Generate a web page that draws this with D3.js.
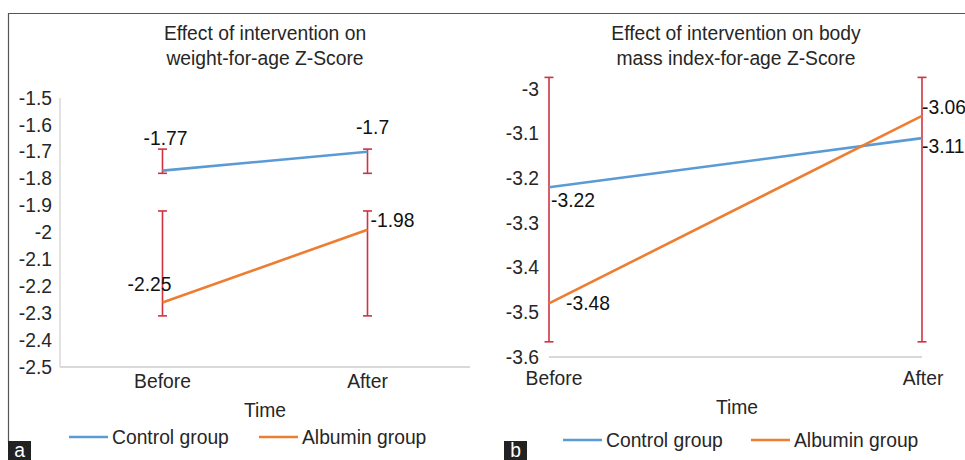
<!DOCTYPE html>
<html><head><meta charset="utf-8">
<script src="https://cdn.jsdelivr.net/npm/d3@7"></script>
<style>
html,body{margin:0;padding:0;background:#fff;}
svg{display:block;font-family:"Liberation Sans",Arial,sans-serif;}
</style></head>
<body>
<svg id="chart" width="965" height="460"></svg>
<script>
// ---- data ----
const categories = ["Before", "After"];
const seriesNames = ["Control group", "Albumin group"];

// Panel a: weight-for-age Z-score
const aTitle = ["Effect of intervention on", "weight-for-age Z-Score"];
const aControl = [-1.77, -1.70];
const aAlbumin = [-2.26, -1.99];
const aControlLabels = ["-1.77", "-1.7"];
const aAlbuminLabels = ["-2.25", "-1.98"];
const aControlErrHigh = [-1.69, -1.69];
const aControlErrLow = [-1.78, -1.78];
const aAlbuminErrHigh = [-1.92, -1.92];
const aAlbuminErrLow = [-2.31, -2.31];
const aTicks = [-1.5, -1.6, -1.7, -1.8, -1.9, -2.0, -2.1, -2.2, -2.3, -2.4, -2.5];

// Panel b: body mass index-for-age Z-score
const bTitle = ["Effect of intervention on body", "mass index-for-age Z-Score"];
const bControl = [-3.22, -3.11];
const bAlbumin = [-3.48, -3.06];
const bControlLabels = ["-3.22", "-3.11"];
const bAlbuminLabels = ["-3.48", "-3.06"];
const bErrHigh = [-2.974, -2.974];
const bErrLow = [-3.566, -3.566];
const bTicks = [-3.0, -3.1, -3.2, -3.3, -3.4, -3.5, -3.6];

const xTitle = "Time";
const colors = ["#5b9bd5", "#ed7d31"];
const errColor = "#d0333f";
const textColor = "#262626";
const FS = 19.3;

const svg = d3.select("#chart");
const fmt = v => String(+v.toFixed(1));

// outer frame
svg.append("line").attr("x1", 8).attr("x2", 965).attr("y1", 13.5).attr("y2", 13.5)
  .attr("stroke", "#555").attr("stroke-width", 1.2);
svg.append("line").attr("x1", 8.5).attr("x2", 8.5).attr("y1", 13).attr("y2", 442)
  .attr("stroke", "#555").attr("stroke-width", 1.2);

function panel(cfg) {
  const g = svg.append("g");
  // title
  cfg.title.forEach((t, i) => {
    g.append("text").attr("x", cfg.titleX).attr("y", 40 + i * 25)
      .attr("text-anchor", "middle").attr("font-size", FS).attr("fill", textColor).text(t);
  });
  const x = cfg.xScale;
  const y = d3.scaleLinear().domain(cfg.yDomain).range(cfg.yRange);

  // y axis
  const ya = g.append("g").attr("transform", `translate(${cfg.x0},0)`)
    .call(d3.axisLeft(y).tickValues(cfg.ticks).tickFormat(fmt).tickSize(0).tickPadding(cfg.tickPad));
  ya.select(".domain").remove();
  ya.selectAll("text").attr("font-size", FS).attr("fill", textColor)
    .attr("font-family", '"Liberation Sans",Arial,sans-serif');
  if (cfg.yAxisLine) {
    g.append("line").attr("x1", cfg.x0).attr("x2", cfg.x0)
      .attr("y1", cfg.yRange[1]).attr("y2", cfg.yRange[0])
      .attr("stroke", "#d9d9d9").attr("stroke-width", 1.5);
  }
  // x axis line
  g.append("line").attr("x1", cfg.x0).attr("x2", cfg.x1)
    .attr("y1", cfg.yRange[0]).attr("y2", cfg.yRange[0])
    .attr("stroke", "#d9d9d9").attr("stroke-width", 2);
  // x category labels
  categories.forEach((c, i) => {
    g.append("text").attr("x", cfg.catX(i)).attr("y", cfg.catY)
      .attr("text-anchor", "middle").attr("font-size", FS).attr("fill", textColor).text(c);
  });
  g.append("text").attr("x", cfg.timeX).attr("y", cfg.timeY)
    .attr("text-anchor", "middle").attr("font-size", FS).attr("fill", textColor).text(xTitle);

  // error bars
  cfg.errs.forEach(e => {
    categories.forEach((c, i) => {
      const cx = cfg.px(i);
      const eg = g.append("g").attr("stroke", errColor).attr("stroke-width", 1.6);
      eg.append("line").attr("x1", cx).attr("x2", cx).attr("y1", y(e.hi[i])).attr("y2", y(e.lo[i]));
      eg.append("line").attr("x1", cx - 4.5).attr("x2", cx + 4.5).attr("y1", y(e.hi[i])).attr("y2", y(e.hi[i]));
      eg.append("line").attr("x1", cx - 4.5).attr("x2", cx + 4.5).attr("y1", y(e.lo[i])).attr("y2", y(e.lo[i]));
    });
  });

  // lines
  const line = d3.line().x((d, i) => cfg.px(i)).y(d => y(d));
  cfg.series.forEach((s, k) => {
    g.append("path").datum(s.values).attr("d", line)
      .attr("fill", "none").attr("stroke", colors[k]).attr("stroke-width", 2.6);
  });
  // data labels
  cfg.series.forEach((s, k) => {
    s.values.forEach((v, i) => {
      const o = cfg.labelOff[k][i];
      g.append("text").attr("x", cfg.px(i) + o[0]).attr("y", y(v) + o[1])
        .attr("text-anchor", o[2]).attr("font-size", FS).attr("fill", "#111").text(s.labels[i]);
    });
  });

  // legend
  seriesNames.forEach((n, k) => {
    const lx = cfg.legX[k];
    g.append("line").attr("x1", lx).attr("x2", lx + 39).attr("y1", cfg.legY - 7).attr("y2", cfg.legY - 7)
      .attr("stroke", colors[k]).attr("stroke-width", 2.6);
    g.append("text").attr("x", lx + 43).attr("y", cfg.legY).attr("font-size", FS)
      .attr("fill", textColor).text(n);
  });

  // panel tag
  g.append("rect").attr("x", cfg.tagX).attr("y", 441).attr("width", 23).attr("height", 19).attr("fill", "#222");
  g.append("text").attr("x", cfg.tagX + 11.5).attr("y", 457).attr("text-anchor", "middle")
    .attr("font-size", FS).attr("fill", "#fff").text(cfg.tag);
}

// panel a
const xa = d3.scaleBand().domain(categories).range([60, 470]).padding(0);
panel({
  title: aTitle, titleX: 265,
  xScale: xa, x0: 60, x1: 470,
  px: i => xa(categories[i]) + xa.bandwidth() / 2,
  catX: i => xa(categories[i]) + xa.bandwidth() / 2,
  catY: 388, timeX: 265, timeY: 417,
  yDomain: [-2.5, -1.5], yRange: [367, 98], ticks: aTicks, tickPad: 8, yAxisLine: true,
  errs: [{hi: aControlErrHigh, lo: aControlErrLow}, {hi: aAlbuminErrHigh, lo: aAlbuminErrLow}],
  series: [{values: aControl, labels: aControlLabels}, {values: aAlbumin, labels: aAlbuminLabels}],
  labelOff: [[[3, -26, "middle"], [5, -18, "middle"]], [[-13, -11, "middle"], [3, -3, "start"]]],
  legX: [69, 259], legY: 444,
  tag: "a", tagX: 8
});

// panel b
const xb = d3.scalePoint().domain(categories).range([549, 922]);
panel({
  title: bTitle, titleX: 736,
  xScale: xb, x0: 549, x1: 922,
  px: i => xb(categories[i]),
  catX: i => xb(categories[i]) + (i === 0 ? 5 : 1),
  catY: 385, timeX: 737, timeY: 414,
  yDomain: [-3.6, -3.0], yRange: [357, 89], ticks: bTicks, tickPad: 10, yAxisLine: false,
  errs: [{hi: bErrHigh, lo: bErrLow}],
  series: [{values: bControl, labels: bControlLabels}, {values: bAlbumin, labels: bAlbuminLabels}],
  labelOff: [[[2, 20, "start"], [0, 15, "start"]], [[17, 7, "start"], [0, -2, "start"]]],
  legX: [563, 751], legY: 447,
  tag: "b", tagX: 504
});
</script>
</body></html>
